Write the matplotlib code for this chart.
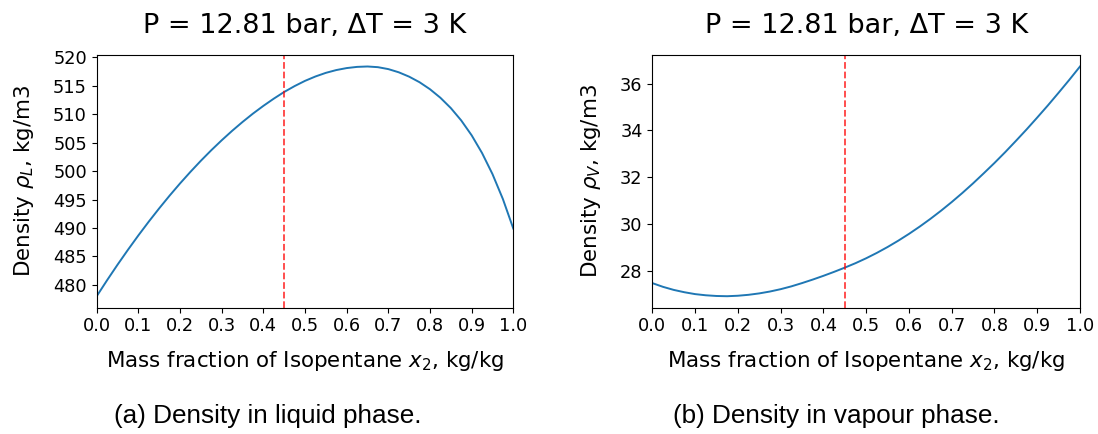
import matplotlib
matplotlib.use("Agg")
import matplotlib.pyplot as plt
from matplotlib import font_manager

# Mass fraction of isopentane, kg/kg
x_frac = [0.000, 0.025, 0.050, 0.075, 0.100, 0.125, 0.150, 0.175, 0.200, 0.225,
          0.250, 0.275, 0.300, 0.325, 0.350, 0.375, 0.400, 0.425, 0.450, 0.475,
          0.500, 0.525, 0.550, 0.575, 0.600, 0.625, 0.650, 0.675, 0.700, 0.725,
          0.750, 0.775, 0.800, 0.825, 0.850, 0.875, 0.900, 0.925, 0.950, 0.975,
          1.000]

# Liquid-phase density, kg/m3
rho_liquid = [478.00, 480.82, 483.54, 486.16, 488.69, 491.12, 493.45, 495.69, 497.83, 499.87,
              501.82, 503.67, 505.42, 507.08, 508.64, 510.11, 511.47, 512.74, 513.92, 514.95,
              515.87, 516.64, 517.28, 517.77, 518.12, 518.33, 518.40, 518.28, 517.94, 517.38,
              516.61, 515.63, 514.40, 512.90, 511.09, 508.91, 506.30, 503.18, 499.48, 495.09,
              489.90]

# Vapour-phase density, kg/m3
rho_vapour = [27.48, 27.32, 27.19, 27.09, 27.01, 26.96, 26.93, 26.92, 26.94, 26.98,
              27.04, 27.12, 27.22, 27.34, 27.48, 27.63, 27.79, 27.96, 28.14, 28.33,
              28.54, 28.77, 29.02, 29.29, 29.58, 29.89, 30.22, 30.57, 30.94, 31.33,
              31.74, 32.17, 32.61, 33.07, 33.55, 34.04, 34.55, 35.07, 35.61, 36.16,
              36.73]

x_design = 0.45
title = "P = 12.81 bar, ΔT = 3 K"
xlabel = "Mass fraction of Isopentane $x_2$, kg/kg"
ylabels = ["Density $\\rho_L$, kg/m3", "Density $\\rho_V$, kg/m3"]
captions = ["(a) Density in liquid phase.", "(b) Density in vapour phase."]
xticks = [0.0, 0.1, 0.2, 0.3, 0.4, 0.5, 0.6, 0.7, 0.8, 0.9, 1.0]
yticks_liquid = [480, 485, 490, 495, 500, 505, 510, 515, 520]
yticks_vapour = [28, 30, 32, 34, 36]

plt.rcParams["font.family"] = ["DejaVu Sans"]

# Regular-width Liberation Sans for the sub-figure captions
caption_font = None
for f in font_manager.fontManager.ttflist:
    if f.name == "Liberation Sans" and f.style == "normal" and f.weight in (400, "normal"):
        caption_font = font_manager.FontProperties(fname=f.fname, size=18.8)
        break
if caption_font is None:
    caption_font = font_manager.FontProperties(family="Liberation Sans", size=18.8)

W, H = 1098, 434
fig = plt.figure(figsize=(W / 100, H / 100), dpi=100)

ax_l = fig.add_axes([96.7 / W, 1 - 307.7 / H, 416.6 / W, 252.7 / H])
ax_r = fig.add_axes([652.3 / W, 1 - 307.7 / H, 427.7 / W, 252.7 / H])

for ax, ys, yl, yt in [(ax_l, rho_liquid, ylabels[0], yticks_liquid),
                       (ax_r, rho_vapour, ylabels[1], yticks_vapour)]:
    ax.plot(x_frac, ys, color="#1f77b4", linewidth=1.4)
    ax.axvline(x_design, color="red", linestyle="--", linewidth=1.3, alpha=0.75)
    ax.set_xlim(0, 1)
    ax.set_xticks(xticks)
    ax.set_yticks(yt)
    ax.tick_params(labelsize=12.8)
    ax.set_title(title, fontsize=19.5, pad=15.5)
    ax.set_xlabel(xlabel, fontsize=15.4, labelpad=10)
    ax.set_ylabel(yl, fontsize=15.4, labelpad=12)

fig.text(268 / W, 1 - 423 / H, captions[0], ha="center", va="baseline",
         fontproperties=caption_font)
fig.text(836 / W, 1 - 423 / H, captions[1], ha="center", va="baseline",
         fontproperties=caption_font)

fig.savefig("out.png", dpi=100, facecolor="white")
